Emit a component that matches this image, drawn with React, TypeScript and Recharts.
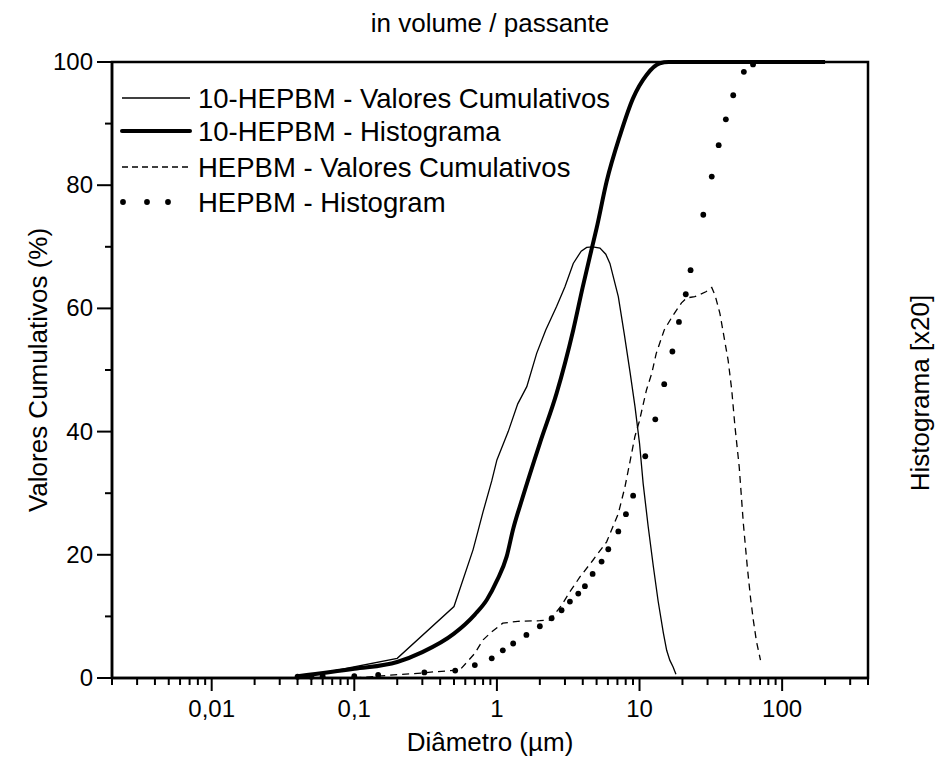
import { LineChart, Line, XAxis, YAxis, ReferenceArea } from 'recharts';

// 10-HEPBM, thin solid (bell shaped)
const d10Cum = [0.04, 0.2, 0.5, 0.68, 0.74, 0.8, 0.92, 1.0, 1.2, 1.4, 1.62, 1.9, 2.2, 2.62, 3.0, 3.43, 3.9, 4.26, 4.7, 5.28, 5.8, 6.2, 7.1, 7.8, 8.6, 9.3, 10.0, 10.6, 11.5, 12.5, 13.5, 14.7, 15.5, 16.3, 17.2, 18];
const v10Cum = [0, 3.2, 11.6, 20.8, 24, 27, 32, 35.4, 40, 44.5, 47.3, 52.7, 56.5, 60.3, 63.5, 67.3, 69.3, 69.9, 70, 69.8, 68.8, 67.3, 61.9, 56, 49.5, 44, 38.1, 31.6, 24.6, 18.1, 12.5, 7.3, 4.5, 2.9, 1.8, 0.6];

// 10-HEPBM, thick solid (S curve)
const d10Hist = [0.04, 0.1, 0.2, 0.3, 0.5, 0.7, 0.85, 1.0, 1.17, 1.3, 1.5, 2.0, 2.62, 3.43, 4.0, 4.6, 5.0, 5.88, 7.3, 9.0, 11.2, 13.9, 16, 20, 50, 100, 200];
const v10Hist = [0.3, 1.5, 2.6, 4.2, 7.2, 10.3, 12.7, 15.8, 19.7, 24.2, 29, 38.1, 46.2, 56.5, 63.5, 69.5, 73, 80.6, 88.1, 94.1, 97.9, 99.8, 100, 100, 100, 100, 100];

// HEPBM, thin dashed
const dHCum = [0.1, 0.19, 0.3, 0.36, 0.55, 0.7, 0.8, 0.92, 1.1, 1.4, 2.0, 2.35, 2.84, 3.25, 3.82, 4.74, 5.88, 7.1, 7.9, 8.57, 9.28, 9.95, 11.2, 12.2, 13.1, 14.9, 17.2, 19.7, 21.4, 24.4, 29.2, 32.1, 34, 36.6, 41.8, 44.3, 46.7, 50, 53.5, 57, 60.1, 62.8, 66, 70.5];
const vHCum = [0, 0.5, 0.8, 1.0, 1.3, 4, 6.2, 7.5, 8.9, 9.2, 9.3, 9.4, 11.8, 14, 16.4, 19.2, 22.1, 26.7, 31, 35.1, 39.2, 41.6, 46.8, 49.5, 52.7, 56.5, 58.9, 60.9, 61.7, 61.9, 62.7, 63.4, 62, 59.2, 51.6, 46.8, 40.8, 34.3, 25, 18, 12.9, 9.4, 6, 2.9];

// HEPBM, dots
const dHHist = [0.04, 0.05, 0.06, 0.1, 0.147, 0.31, 0.51, 0.7, 0.92, 1.1, 1.3, 1.61, 2.0, 2.42, 2.84, 3.25, 3.72, 4.14, 4.69, 5.42, 6.04, 7.1, 8.03, 9.02, 10.97, 12.9, 14.9, 17.0, 18.9, 21.1, 22.8, 28.0, 32.1, 35.9, 40.3, 45.4, 53.9, 62.5];
const vHHist = [0.2, 0.2, 0.3, 0.3, 0.5, 0.9, 1.2, 2.1, 3.2, 4.5, 5.6, 7.0, 8.4, 9.7, 11, 12.4, 13.7, 14.9, 16.9, 18.9, 20.9, 23.8, 26.6, 29.6, 36, 42, 47.7, 53, 57.8, 62.3, 66.2, 75.2, 81.4, 86.5, 90.7, 94.6, 98.4, 99.6];

const xTicks = [
  0.002, 0.003, 0.004, 0.005, 0.006, 0.007, 0.008, 0.009,
  0.01, 0.02, 0.03, 0.04, 0.05, 0.06, 0.07, 0.08, 0.09,
  0.1, 0.2, 0.3, 0.4, 0.5, 0.6, 0.7, 0.8, 0.9,
  1, 2, 3, 4, 5, 6, 7, 8, 9,
  10, 20, 30, 40, 50, 60, 70, 80, 90,
  100, 200, 300, 400,
];
const xMajor = [0.01, 0.1, 1, 10, 100];
const xLabels = ['0,01', '0,1', '1', '10', '100'];
const yTicks = [0, 10, 20, 30, 40, 50, 60, 70, 80, 90, 100];

const FONT = '"Liberation Sans", Arial, sans-serif';

const zip = (xs: number[], ys: number[]) => xs.map((d, i) => ({ d, v: ys[i] }));

function XTick(props: any) {
  const { x, y, payload } = props;
  const idx = xMajor.findIndex((m) => Math.abs(m - payload.value) < 1e-9);
  const major = idx >= 0;
  return (
    <g>
      <line x1={x} y1={y} x2={x} y2={y + (major ? 13 : 7)} stroke="#000" strokeWidth={2} />
      {major && (
        <text x={x} y={y + 39} textAnchor="middle" fontFamily={FONT} fontSize={24} fill="#000">
          {xLabels[idx]}
        </text>
      )}
    </g>
  );
}

function YTick(props: any) {
  const { x, y, payload } = props;
  const major = payload.value % 20 === 0;
  return (
    <g>
      <line x1={x} y1={y} x2={x - (major ? 15 : 7)} y2={y} stroke="#000" strokeWidth={2} />
      {major && (
        <text x={x - 19} y={y + 8} textAnchor="end" fontFamily={FONT} fontSize={24} fill="#000">
          {payload.value}
        </text>
      )}
    </g>
  );
}

export default function App() {
  return (
    <div style={{ position: 'absolute', left: 0, top: 0, background: '#fff' }}>
      <LineChart width={935} height={774} margin={{ top: 62, right: 67, bottom: 0, left: 0 }}>
        <XAxis
          type="number"
          dataKey="d"
          scale="log"
          domain={[0.002, 400]}
          allowDataOverflow
          ticks={xTicks}
          interval={0}
          height={96}
          tickSize={0}
          tickMargin={0}
          tickLine={false}
          tick={<XTick />}
          axisLine={{ stroke: '#000', strokeWidth: 2.5 }}
        />
        <YAxis
          type="number"
          domain={[0, 100]}
          ticks={yTicks}
          interval={0}
          width={112}
          tickSize={0}
          tickMargin={0}
          tickLine={false}
          tick={<YTick />}
          axisLine={{ stroke: '#000', strokeWidth: 2.5 }}
        />
        <ReferenceArea x1={0.002} x2={400} y1={0} y2={100} fill="none" stroke="#000" strokeWidth={2.5} ifOverflow="visible" />
        <Line
          data={zip(d10Cum, v10Cum)}
          dataKey="v"
          type="linear"
          stroke="#000"
          strokeWidth={1.3}
          dot={false}
          isAnimationActive={false}
        />
        <Line
          data={zip(d10Hist, v10Hist)}
          dataKey="v"
          type="monotone"
          stroke="#000"
          strokeWidth={4}
          dot={false}
          isAnimationActive={false}
        />
        <Line
          data={zip(dHCum, vHCum)}
          dataKey="v"
          type="linear"
          stroke="#000"
          strokeWidth={1.3}
          strokeDasharray="7 5"
          dot={false}
          isAnimationActive={false}
        />
        <Line
          data={zip(dHHist, vHHist)}
          dataKey="v"
          type="linear"
          stroke="none"
          dot={{ r: 2.9, fill: '#000', stroke: 'none' }}
          isAnimationActive={false}
        />

        <text x={490} y={32} textAnchor="middle" fontFamily={FONT} fontSize={26} fill="#000">in volume / passante</text>
        <text x={490} y={751} textAnchor="middle" fontFamily={FONT} fontSize={26} fill="#000">Diâmetro (µm)</text>
        <text transform="translate(47,370) rotate(-90)" textAnchor="middle" fontFamily={FONT} fontSize={26} fill="#000">Valores Cumulativos (%)</text>
        <text transform="translate(929,393) rotate(-90)" textAnchor="middle" fontFamily={FONT} fontSize={26} fill="#000">Histograma [x20]</text>

        <g fontFamily={FONT} fontSize={27.5} fill="#000">
          <line x1={122} y1={98} x2={190} y2={98} stroke="#000" strokeWidth={1.3} />
          <text x={198} y={108}>10-HEPBM - Valores Cumulativos</text>
          <line x1={122} y1={131} x2={190} y2={131} stroke="#000" strokeWidth={4} strokeLinecap="round" />
          <text x={198} y={141}>10-HEPBM - Histograma</text>
          <line x1={122} y1={167} x2={190} y2={167} stroke="#000" strokeWidth={1.3} strokeDasharray="6 4" />
          <text x={198} y={177}>HEPBM - Valores Cumulativos</text>
          <circle cx={123} cy={202} r={2.9} />
          <circle cx={147} cy={202} r={2.9} />
          <circle cx={168} cy={202} r={2.9} />
          <text x={198} y={212}>HEPBM - Histogram</text>
        </g>
      </LineChart>
    </div>
  );
}
